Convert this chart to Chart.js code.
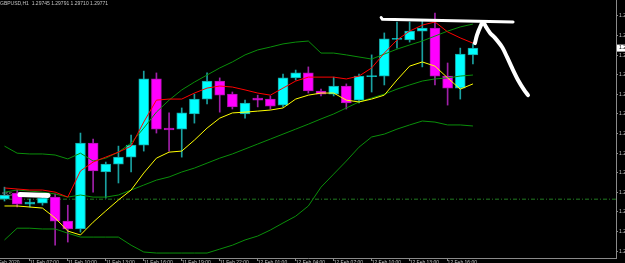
<!DOCTYPE html>
<html>
<head>
<meta charset="utf-8">
<script src="https://cdn.jsdelivr.net/npm/chart.js@4.4.1/dist/chart.umd.min.js"></script>
<style>
  html, body { margin: 0; padding: 0; background: #000; }
  canvas { display: block; }
</style>
</head>
<body>
<canvas id="c" width="625" height="263"></canvas>
<script>
// GBPUSD H1 candles (bar 0 is the partial one at the left edge)
const SYMBOL = 'GBPUSD,H1';
const OPEN  = [1.29193, 1.29216, 1.29174, 1.29178, 1.29201, 1.29109, 1.29079, 1.29408, 1.29297, 1.29327,
               1.29354, 1.29400, 1.29653, 1.29465, 1.29461, 1.29519, 1.29576, 1.29645, 1.29595, 1.29519,
               1.29580, 1.29576, 1.29553, 1.29657, 1.29676, 1.29607, 1.29595, 1.29626, 1.29572, 1.29662,
               1.29664, 1.29804, 1.29802, 1.29836, 1.29848, 1.29664, 1.29618, 1.29745];
const HIGH  = [1.29239, 1.29228, 1.29193, 1.29216, 1.29213, 1.29170, 1.29446, 1.29423, 1.29335, 1.29396,
               1.29438, 1.29683, 1.29676, 1.29523, 1.29542, 1.29595, 1.29676, 1.29657, 1.29603, 1.29572,
               1.29591, 1.29588, 1.29672, 1.29687, 1.29699, 1.29614, 1.29660, 1.29634, 1.29672, 1.29745,
               1.29829, 1.29871, 1.29871, 1.29878, 1.29905, 1.29714, 1.29771, 1.29791];
const LOW   = [1.29186, 1.29163, 1.29163, 1.29170, 1.29017, 1.29029, 1.29067, 1.29220, 1.29197, 1.29255,
               1.29297, 1.29377, 1.29446, 1.29377, 1.29354, 1.29484, 1.29557, 1.29526, 1.29538, 1.29503,
               1.29546, 1.29538, 1.29546, 1.29649, 1.29599, 1.29588, 1.29588, 1.29538, 1.29561, 1.29603,
               1.29630, 1.29771, 1.29794, 1.29699, 1.29630, 1.29553, 1.29576, 1.29710];
const CLOSE = [1.29209, 1.29174, 1.29182, 1.29197, 1.29109, 1.29079, 1.29408, 1.29301, 1.29327, 1.29354,
               1.29400, 1.29653, 1.29461, 1.29458, 1.29523, 1.29576, 1.29645, 1.29591, 1.29546, 1.29561,
               1.29572, 1.29549, 1.29657, 1.29676, 1.29607, 1.29595, 1.29626, 1.29561, 1.29664, 1.29666,
               1.29806, 1.29808, 1.29836, 1.29848, 1.29664, 1.29618, 1.29748, 1.29771];

// indicators, one value per bar
const MA_FAST = [1.29236, 1.29232, 1.29228, 1.29228, 1.29220, 1.29201, 1.29301, 1.29335, 1.29354, 1.29373,
                 1.29396, 1.29488, 1.29572, 1.29576, 1.29576, 1.29599, 1.29618, 1.29626, 1.29622, 1.29611,
                 1.29599, 1.29591, 1.29618, 1.29645, 1.29660, 1.29660, 1.29660, 1.29653, 1.29664, 1.29695,
                 1.29752, 1.29802, 1.29836, 1.29859, 1.29871, 1.29833, 1.29810, 1.29790];
const MA_SLOW = [1.29167, 1.29167, 1.29163, 1.29159, 1.29121, 1.29071, 1.29056, 1.29105, 1.29148, 1.29190,
                 1.29228, 1.29293, 1.29350, 1.29373, 1.29377, 1.29419, 1.29465, 1.29503, 1.29523, 1.29526,
                 1.29530, 1.29534, 1.29542, 1.29576, 1.29591, 1.29599, 1.29599, 1.29572, 1.29565, 1.29576,
                 1.29591, 1.29649, 1.29702, 1.29718, 1.29702, 1.29657, 1.29614, 1.29634];
const BB_UPPER = [1.29396, 1.29369, 1.29366, 1.29366, 1.29362, 1.29347, 1.29369, 1.29339, 1.29350, 1.29373,
                  1.29408, 1.29465, 1.29526, 1.29572, 1.29611, 1.29641, 1.29668, 1.29695, 1.29718, 1.29745,
                  1.29764, 1.29775, 1.29787, 1.29794, 1.29798, 1.29752, 1.29752, 1.29745, 1.29737, 1.29729,
                  1.29748, 1.29767, 1.29783, 1.29798, 1.29817, 1.29836, 1.29852, 1.29863];
const BB_MID   = [1.29220, 1.29228, 1.29224, 1.29220, 1.29213, 1.29201, 1.29209, 1.29201, 1.29201, 1.29209,
                  1.29228, 1.29247, 1.29266, 1.29278, 1.29297, 1.29312, 1.29331, 1.29350, 1.29366, 1.29385,
                  1.29404, 1.29423, 1.29442, 1.29461, 1.29480, 1.29500, 1.29519, 1.29542, 1.29565, 1.29580,
                  1.29595, 1.29614, 1.29630, 1.29645, 1.29653, 1.29657, 1.29664, 1.29668];
const BB_LOWER = [1.29037, 1.29082, 1.29082, 1.29079, 1.29079, 1.29063, 1.29048, 1.29048, 1.29048, 1.29048,
                  1.29017, 1.28991, 1.28987, 1.28987, 1.28987, 1.28987, 1.28987, 1.29002, 1.29017, 1.29037,
                  1.29052, 1.29075, 1.29102, 1.29128, 1.29167, 1.29239, 1.29289, 1.29339, 1.29392, 1.29431,
                  1.29442, 1.29461, 1.29477, 1.29492, 1.29488, 1.29477, 1.29477, 1.29473];

// horizontal level (dash-dot) and its label
const LEVEL_PRICE = 1.29193;
const LEVEL_LABEL = 'SSS';
const LEVEL_LABEL_AT = [-0.2, 1.29209];

// hand-drawn white marks, as [bar, price]
const SKETCH_TOP   = [[29.75, 1.29888], [29.85, 1.29881], [40.17, 1.29871]];
const SKETCH_ARROW = [[37.16, 1.29790], [37.32, 1.29821], [37.64, 1.29859], [37.80, 1.29871], [38.03, 1.29852],
                      [38.35, 1.29829], [38.74, 1.29810], [39.30, 1.29775], [39.69, 1.29737], [40.09, 1.29695],
                      [40.56, 1.29649], [41.04, 1.29611], [41.35, 1.29591]];
const SKETCH_MARK  = [[1.22, 1.29211], [3.44, 1.29207]];

// axes
const X_MIN = -0.355, X_MAX = 48.3;
const Y_MIN = 1.28968, Y_MAX = 1.29955;
const X_TICK_INDEX  = [-1, 2, 5, 8, 11, 14, 17, 20, 23, 26, 29, 32, 35];
const X_TICK_LABELS = ['11 Feb 2020', '11 Feb 07:00', '11 Feb 10:00', '11 Feb 13:00', '11 Feb 16:00',
                       '11 Feb 19:00', '11 Feb 22:00', '12 Feb 01:00', '12 Feb 04:00', '12 Feb 07:00',
                       '12 Feb 10:00', '12 Feb 13:00', '12 Feb 16:00'];
const Y_TICKS = [1.29894, 1.29819, 1.29744, 1.29669, 1.29594, 1.29519, 1.29444,
                 1.29369, 1.29294, 1.29219, 1.29144, 1.29069, 1.28994];

const AXIS_COLOR = '#8a8a8a';
const TEXT_COLOR = '#c4c4c4';
const FONT = { family: "'Liberation Sans', Arial, sans-serif", size: 5, lineHeight: 1 };

const BARS = OPEN.map(function (_, i) { return i; });
const isBull = function (i) { return CLOSE[i] >= OPEN[i]; };
const isBear = function (i) { return CLOSE[i] < OPEN[i]; };

function wicks(pick) {
  return BARS.filter(pick).map(function (i) { return { x: i, y: [LOW[i], HIGH[i]] }; });
}
function bodies(pick) {
  return BARS.filter(pick).map(function (i) { return { x: i, y: [OPEN[i], CLOSE[i]] }; });
}
function series(values) {
  return values.map(function (v, i) { return { x: i, y: v }; });
}
function points(list) {
  return list.map(function (p) { return { x: p[0], y: p[1] }; });
}
function lineSet(label, data, color, width, order, extra) {
  return Object.assign({
    type: 'line', label: label, data: data,
    borderColor: color, borderWidth: width,
    pointRadius: 0, tension: 0, fill: false, order: order,
  }, extra || {});
}

const overlay = {
  id: 'mtOverlay',
  afterDraw: function (chart) {
    const ctx = chart.ctx;
    const xs = chart.scales.x, ys = chart.scales.y;
    const n = CLOSE.length - 1;
    ctx.save();
    ctx.font = FONT.size + 'px ' + FONT.family;
    ctx.textBaseline = 'middle';
    ctx.textAlign = 'left';

    ctx.fillStyle = TEXT_COLOR;
    ctx.fillText(SYMBOL + '  ' + [OPEN[n], HIGH[n], LOW[n], CLOSE[n]].map(function (v) {
      return v.toFixed(5);
    }).join(' '), 0, 3.5);

    ctx.fillStyle = '#8c8c8c';
    ctx.fillText(LEVEL_LABEL, xs.getPixelForValue(LEVEL_LABEL_AT[0]), ys.getPixelForValue(LEVEL_LABEL_AT[1]));

    // bid box on the price scale
    const py = ys.getPixelForValue(CLOSE[n]);
    ctx.fillStyle = '#ffffff';
    ctx.fillRect(ys.left + 1, py - 3.5, ys.width, 7);
    ctx.fillStyle = '#000000';
    ctx.fillText(CLOSE[n].toFixed(5), ys.left + 3, py);
    ctx.restore();
  }
};

new Chart(document.getElementById('c'), {
  type: 'bar',
  data: {
    datasets: [
      lineSet('sketch top', points(SKETCH_TOP), '#ffffff', 3, 0, { borderCapStyle: 'round', borderJoinStyle: 'round' }),
      lineSet('sketch arrow', points(SKETCH_ARROW), '#ffffff', 4, 0, { borderCapStyle: 'round', borderJoinStyle: 'round', tension: 0.3 }),
      lineSet('sketch mark', points(SKETCH_MARK), '#ffffff', 5, 0, { borderCapStyle: 'round' }),
      lineSet('MA fast', series(MA_FAST), '#ff0000', 1, 1),
      lineSet('MA slow', series(MA_SLOW), '#ffff00', 1, 1),
      lineSet('BB upper', series(BB_UPPER), '#0a8f0a', 1, 1),
      lineSet('BB mid', series(BB_MID), '#0a8f0a', 1, 1),
      lineSet('BB lower', series(BB_LOWER), '#0a8f0a', 1, 1),
      lineSet('level', [{ x: X_MIN, y: LEVEL_PRICE }, { x: X_MAX, y: LEVEL_PRICE }], '#217a21', 1, 4, { borderDash: [4, 2, 1, 2] }),
      { type: 'bar', label: 'bull body', data: bodies(isBull), backgroundColor: '#00ffff',
        borderColor: '#17a3a3', borderWidth: 1, borderSkipped: false, barThickness: 10, minBarLength: 1, order: 2 },
      { type: 'bar', label: 'bear body', data: bodies(isBear), backgroundColor: '#ff00ff',
        borderColor: '#b012b0', borderWidth: 1, borderSkipped: false, barThickness: 10, minBarLength: 1, order: 2 },
      { type: 'bar', label: 'bull wick', data: wicks(isBull), backgroundColor: '#1aa0a0',
        borderWidth: 0, barThickness: 1, order: 3 },
      { type: 'bar', label: 'bear wick', data: wicks(isBear), backgroundColor: '#a020a8',
        borderWidth: 0, barThickness: 1, order: 3 },
    ],
  },
  options: {
    responsive: false,
    animation: false,
    devicePixelRatio: 1,
    events: [],
    layout: { padding: 0 },
    datasets: { bar: { grouped: false } },
    plugins: { legend: { display: false }, tooltip: { enabled: false } },
    scales: {
      x: {
        type: 'linear', position: 'bottom', min: X_MIN, max: X_MAX, offset: false, bounds: 'data',
        grid: { offset: false, drawOnChartArea: false, drawTicks: true, tickLength: 3, color: AXIS_COLOR },
        border: { display: true, color: AXIS_COLOR },
        afterBuildTicks: function (s) { s.ticks = X_TICK_INDEX.map(function (v) { return { value: v }; }); },
        ticks: {
          autoSkip: false, maxRotation: 0, minRotation: 0, align: 'start', padding: -1,
          color: TEXT_COLOR, font: FONT,
          callback: function (v) { return X_TICK_LABELS[X_TICK_INDEX.indexOf(v)]; },
        },
        afterFit: function (s) { s.height = 5; s.paddingLeft = 0; s.paddingRight = 0; },
      },
      y: {
        type: 'linear', position: 'right', min: Y_MIN, max: Y_MAX, bounds: 'data',
        grid: { drawOnChartArea: false, drawTicks: true, tickLength: 2, color: AXIS_COLOR },
        border: { display: true, color: AXIS_COLOR },
        afterBuildTicks: function (s) { s.ticks = Y_TICKS.map(function (v) { return { value: v }; }); },
        ticks: {
          autoSkip: false, padding: 1, color: TEXT_COLOR, font: FONT,
          callback: function (v) { return Number(v).toFixed(5); },
        },
        afterFit: function (s) { s.width = 9; s.paddingTop = 0; s.paddingBottom = 0; },
      },
    },
  },
  plugins: [overlay],
});
</script>
</body>
</html>
